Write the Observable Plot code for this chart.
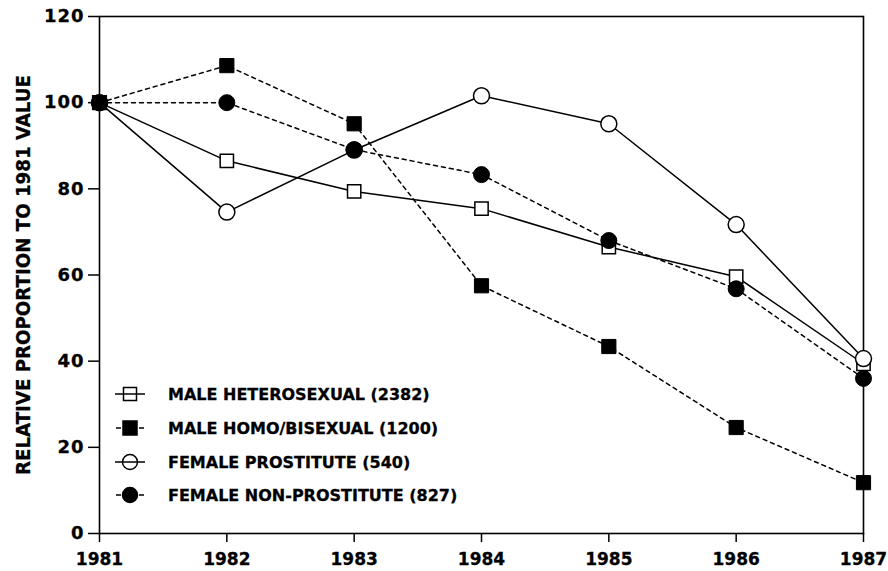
<!DOCTYPE html>
<html><head><meta charset="utf-8">
<script src="https://cdn.jsdelivr.net/npm/d3@7"></script>
<script src="https://cdn.jsdelivr.net/npm/@observablehq/plot@0.6"></script>
<style>
body{margin:0;background:#fff;}
#wrap{position:relative;width:888px;height:571px;}
#legend{position:absolute;left:0;top:0;}
</style></head><body><div id="wrap"></div>
<script>
const years = [1981, 1982, 1983, 1984, 1985, 1986, 1987];
const seriesNames = ["MALE HETEROSEXUAL (2382)", "MALE HOMO/BISEXUAL (1200)", "FEMALE PROSTITUTE (540)", "FEMALE NON-PROSTITUTE (827)"];
const maleHetero   = [100, 86.5, 79.4, 75.4, 66.5, 59.6, 39.4];
const maleHomo     = [100, 108.6, 95.1, 57.5, 43.4, 24.6, 11.8];
const femaleProst  = [100, 74.6, 89.0, 101.6, 95.1, 71.7, 40.6];
const femaleNon    = [100, 100, 89.1, 83.3, 68.0, 56.8, 36.0];
const yTicks = [0, 20, 40, 60, 80, 100, 120];
const yLabel = "RELATIVE PROPORTION TO 1981 VALUE";

const rows = (vals) => years.map((year, i) => ({year, value: vals[i]}));
const hetero = rows(maleHetero), homo = rows(maleHomo), prost = rows(femaleProst), non = rows(femaleNon);

const font = "'DejaVu Sans', 'Liberation Sans', sans-serif";
const dash = "4,4";
const lw = 1.5;

const chart = Plot.plot({
  width: 888, height: 571,
  marginLeft: 99, marginRight: 25, marginTop: 16, marginBottom: 38,
  style: {fontFamily: font, fontWeight: "bold", background: "#fff", color: "#000", fontSize: "17px"},
  x: {domain: [1981, 1987]},
  y: {domain: [0, 120]},
  marks: [
    Plot.frame({stroke: "#000", strokeWidth: 1.6}),
    Plot.axisX({ticks: years, tickFormat: d => String(d), tickSize: 9, tickPadding: 10, fontSize: 17, fontWeight: "bold", label: null, strokeWidth: 1.5}),
    Plot.axisY({ticks: yTicks, tickSize: 11, tickPadding: 4, fontSize: 18, fontWeight: "bold", label: null, strokeWidth: 1.5}),
    Plot.text([yLabel], {frameAnchor: "left", textAnchor: "middle", rotate: -90, dx: -76, fontSize: 20, fontWeight: "bold"}),
    Plot.line(hetero, {x: "year", y: "value", stroke: "#000", strokeWidth: lw}),
    Plot.line(prost, {x: "year", y: "value", stroke: "#000", strokeWidth: lw}),
    Plot.line(non, {x: "year", y: "value", stroke: "#000", strokeWidth: lw, strokeDasharray: dash}),
    Plot.line(homo, {x: "year", y: "value", stroke: "#000", strokeWidth: lw, strokeDasharray: dash}),
    Plot.dot(hetero, {x: "year", y: "value", symbol: "square", r: 7.5, fill: "#fff", stroke: "#000", strokeWidth: lw}),
    Plot.dot(prost, {x: "year", y: "value", symbol: "circle", r: 8, fill: "#fff", stroke: "#000", strokeWidth: lw}),
    Plot.dot(non, {x: "year", y: "value", symbol: "circle", r: 8, fill: "#000", stroke: "#000", strokeWidth: 1}),
    Plot.dot(homo, {x: "year", y: "value", symbol: "square", r: 8, fill: "#000", stroke: "#000", strokeWidth: 1})
  ]
});
const wrap = document.getElementById("wrap");
wrap.appendChild(chart);

const root = d3.select(chart);
const xTickStrings = new Set(years.map(String));
const yTickStrings = new Set(yTicks.map(String));
// all chart lettering: heavy sans
root.selectAll("text").style("font-family", font).style("font-weight", "bold")
  .attr("stroke", "#000").attr("stroke-width", 0.3);
root.selectAll("text").filter(function(){ return xTickStrings.has(this.textContent); })
  .style("font-size", "17px");
root.selectAll("text").filter(function(){ return yTickStrings.has(this.textContent); })
  .style("font-size", "18px").attr("letter-spacing", 1);
// stretch y-axis title to its measured length
root.selectAll("text").filter(function(){ return this.textContent === yLabel; })
  .style("font-size", "20px").attr("textLength", 400).attr("lengthAdjust", "spacingAndGlyphs");

// legend overlay
const legendStyles = [
  {shape: "square", fill: "#fff", dashed: false},
  {shape: "square", fill: "#000", dashed: true},
  {shape: "circle", fill: "#fff", dashed: false},
  {shape: "circle", fill: "#000", dashed: true}
];
const rowY = [394, 428, 462, 495];
const svg = d3.select(wrap).append("svg").attr("id", "legend").attr("width", 888).attr("height", 571);
seriesNames.forEach((name, i) => {
  const s = legendStyles[i], y = rowY[i], cx = 130;
  const g = svg.append("g");
  if (s.dashed) {
    g.append("line").attr("x1", 116).attr("x2", 121).attr("y1", y).attr("y2", y).attr("stroke", "#000").attr("stroke-width", lw);
    g.append("line").attr("x1", 139).attr("x2", 144).attr("y1", y).attr("y2", y).attr("stroke", "#000").attr("stroke-width", lw);
  } else {
    g.append("line").attr("x1", 115).attr("x2", 145).attr("y1", y).attr("y2", y).attr("stroke", "#000").attr("stroke-width", lw);
  }
  if (s.shape === "square") {
    const h = s.fill === "#000" ? 7 : 6.5;
    g.append("rect").attr("x", cx - h).attr("y", y - h).attr("width", 2*h).attr("height", 2*h)
      .attr("fill", s.fill === "#000" ? "#000" : "none").attr("stroke", "#000").attr("stroke-width", lw);
  } else {
    g.append("circle").attr("cx", cx).attr("cy", y).attr("r", 7.5)
      .attr("fill", s.fill === "#000" ? "#000" : "none").attr("stroke", "#000").attr("stroke-width", lw);
  }
  g.append("text").attr("x", 168).attr("y", y).attr("dy", "0.36em")
    .style("font-family", font).style("font-weight", "bold").style("font-size", "16px")
    .attr("letter-spacing", 0).attr("stroke", "#000").attr("stroke-width", 0.3).text(name);
});
</script></body></html>
